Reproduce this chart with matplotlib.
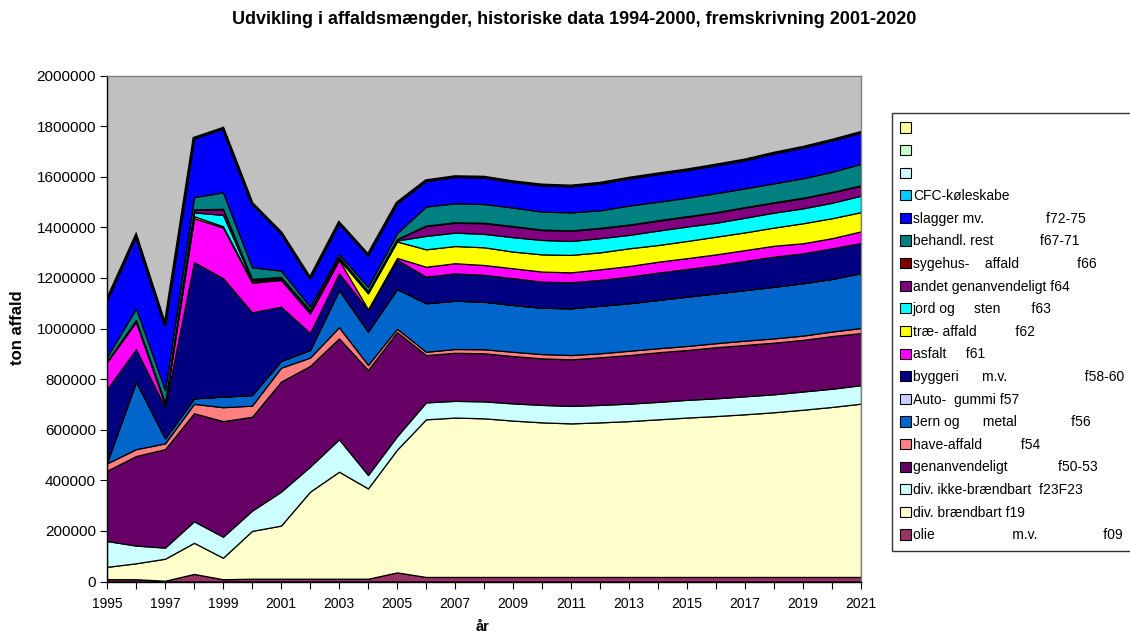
import numpy as np
import matplotlib
matplotlib.use("Agg")
import matplotlib.pyplot as plt
from matplotlib.patches import Patch

plt.rcParams['font.family'] = ['Liberation Sans', 'DejaVu Sans']

years = list(range(1995, 2022))
SCALE = 1000  # values below are in 1000 tons

olie = [9, 9, 3, 30, 9, 11, 11, 11, 11, 11, 36,
        18, 18, 18, 18, 18, 18, 18, 18, 18, 18, 18, 18, 18, 18, 18, 18]
braendbart = [49, 63, 87, 123, 85, 189, 210, 344, 423, 357, 485,
              623, 630, 627, 618, 611, 607, 611, 616, 623, 630, 636, 643, 651, 661, 672, 685]
ikke_braendbart = [102, 70, 44, 85, 83, 80, 134, 99, 128, 53, 53,
                   67, 66, 67, 68, 69, 69, 69, 69, 69, 70, 70, 71, 71, 72, 72, 73]
genanvendeligt = [278, 354, 389, 427, 457, 371, 435, 398, 399, 415, 412,
                  187, 190, 190, 187, 184, 184, 188, 192, 196, 197, 202, 203, 204, 204, 208, 206]
have_affald = [29, 27, 23, 37, 55, 44, 55, 33, 44, 20, 13,
               13, 15, 16, 17, 17, 17, 16, 17, 16, 16, 16, 17, 17, 17, 18, 20]
jern_metal = [3, 267, 20, 22, 42, 42, 27, 30, 147, 132, 157,
              192, 191, 188, 185, 183, 185, 188, 188, 191, 195, 197, 200, 204, 207, 208, 217]
auto_gummi = [0] * 27
byggeri = [290, 128, 122, 538, 468, 327, 214, 67, 66, 85, 116,
           105, 108, 106, 106, 103, 103, 102, 105, 108, 109, 111, 115, 119, 118, 121, 119]
asfalt = [109, 109, 12, 174, 200, 117, 106, 78, 53, 3, 7,
          39, 40, 39, 39, 40, 39, 42, 42, 43, 43, 43, 43, 43, 40, 40, 46]
trae_affald = [0, 0, 0, 8, 5, 6, 3, 0, 3, 63, 65,
               69, 68, 70, 66, 68, 69, 67, 70, 66, 68, 70, 70, 72, 79, 79, 76]
jord_sten = [0, 0, 0, 15, 45, 4, 5, 8, 3, 3, 4,
             53, 53, 53, 57, 57, 55, 56, 53, 57, 57, 55, 58, 59, 59, 61, 65]
andet_genanv = [0, 5, 5, 10, 22, 3, 2, 2, 3, 3, 4,
                39, 39, 42, 42, 39, 40, 39, 39, 39, 39, 40, 40, 39, 40, 41, 39]
sygehus = [2] * 27
behandl_rest = [16, 46, 50, 48, 65, 46, 25, 14, 11, 18, 23,
                75, 75, 74, 73, 71, 71, 69, 75, 73, 73, 75, 74, 75, 77, 79, 85]
slagger = [226, 287, 257, 233, 253, 253, 150, 113, 125, 126, 119,
           102, 105, 106, 102, 105, 104, 107, 108, 110, 110, 111, 112, 119, 122, 125, 124]
cfc = [0] * 27
blank1 = [0] * 27
blank2 = [0] * 27
blank3 = [0] * 27

labels = [
    "olie                    m.v.                 f09",
    "div. brændbart f19",
    "div. ikke-brændbart  f23F23",
    "genanvendeligt             f50-53",
    "have-affald          f54",
    "Jern og      metal              f56",
    "Auto-  gummi f57",
    "byggeri      m.v.                    f58-60",
    "asfalt     f61",
    "træ- affald          f62",
    "jord og     sten        f63",
    "andet genanvendeligt f64",
    "sygehus-    affald               f66",
    "behandl. rest            f67-71",
    "slagger mv.                f72-75",
    "CFC-køleskabe",
    "",
    "",
    "",
]
series = [olie, braendbart, ikke_braendbart, genanvendeligt, have_affald,
          jern_metal, auto_gummi, byggeri, asfalt, trae_affald, jord_sten,
          andet_genanv, sygehus, behandl_rest, slagger, cfc, blank1, blank2, blank3]
colors = ["#993366", "#FFFFCC", "#CCFFFF", "#660066", "#FF8080",
          "#0066CC", "#CCCCFF", "#000080", "#FF00FF", "#FFFF00", "#00FFFF",
          "#800080", "#800000", "#008080", "#0000FF", "#00CCFF",
          "#CCFFFF", "#CCFFCC", "#FFFF99"]

data = np.array(series, dtype=float) * SCALE

W, H = 1130, 634
fig = plt.figure(figsize=(W / 100, H / 100), dpi=100)
ax = fig.add_axes([107 / W, 1 - 581.5 / H, (861 - 107) / W, (581.5 - 75.5) / H])
ax.set_facecolor("#C0C0C0")

ax.stackplot(years, *data, colors=colors, edgecolor="black", linewidth=0.9)
ax.plot(years, data.sum(axis=0), color="black", linewidth=2.2, solid_joinstyle="miter")

ax.set_xlim(1995, 2021)
ax.set_ylim(0, 2000000)
ax.set_yticks(np.arange(0, 2000001, 200000))
ax.set_yticklabels([f"{v:d}" for v in range(0, 2000001, 200000)], fontsize=11)
ax.set_xticks(years)
ax.set_xticklabels([str(y) if (y - 1995) % 2 == 0 else "" for y in years], fontsize=10)
ax.tick_params(axis="both", direction="out", length=5, width=0.8, colors="black")
ax.tick_params(axis="x", pad=6)
ax.tick_params(axis="y", pad=3)
for s in ["left", "bottom"]:
    ax.spines[s].set_color("black")
    ax.spines[s].set_linewidth(1.0)
for s in ["top", "right"]:
    ax.spines[s].set_color("#808080")
    ax.spines[s].set_linewidth(1.0)

fig.text(574 / W, 1 - 20 / H,
         "Udvikling i affaldsmængder, historiske data 1994-2000, fremskrivning 2001-2020",
         ha="center", va="center", fontsize=13, fontweight="bold")
fig.text(18 / W, 1 - 328 / H, "ton affald", rotation=90, ha="center", va="center",
         fontsize=12, fontweight="bold")
fig.text(483 / W, 1 - 627 / H, "år", ha="center", va="center", fontsize=10.5, fontweight="bold")

handles = [Patch(facecolor=c, edgecolor="black", linewidth=0.8) for c in colors]
leg = fig.legend(handles[::-1], labels[::-1], loc="upper left",
                 bbox_to_anchor=(892 / W, 1 - 113 / H), bbox_transform=fig.transFigure,
                 fontsize=10, frameon=True, fancybox=False, shadow=False,
                 handlelength=0.75, handleheight=0.75, handletextpad=0.15,
                 labelspacing=0.62, borderpad=0.6, borderaxespad=0)
leg.get_frame().set_edgecolor("black")
leg.get_frame().set_linewidth(1.0)

fig.savefig("out.png", dpi=100)
